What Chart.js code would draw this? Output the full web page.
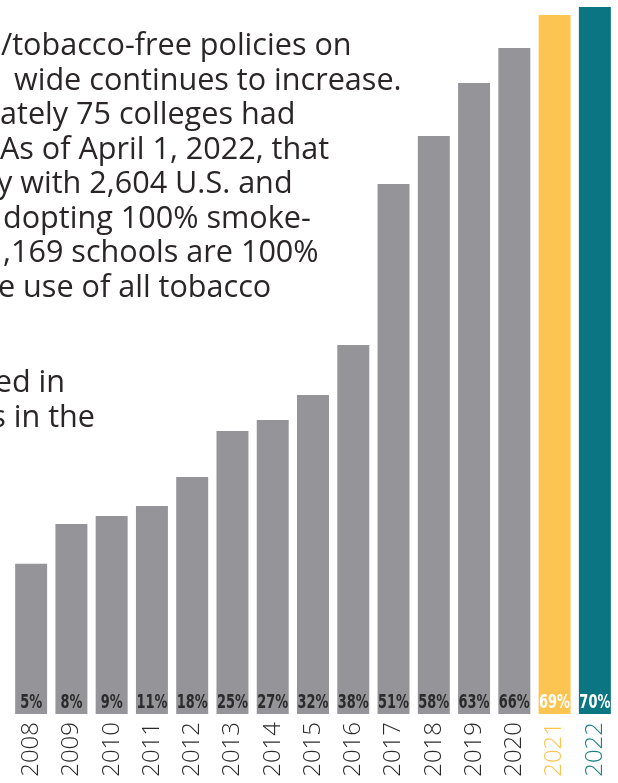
<!DOCTYPE html>
<html>
<head>
<meta charset="utf-8">
<script src="https://cdn.jsdelivr.net/npm/chart.js@4.4.0/dist/chart.umd.min.js"></script>
<style>
  html, body { margin: 0; padding: 0; background: #fff; overflow: hidden; }
  #wrap { position: relative; width: 618px; height: 783px; }
</style>
</head>
<body>
<div id="wrap"><canvas id="campusChart" width="618" height="783"></canvas></div>
<script>
// data (bar heights as campus counts, labels as printed)
const years = ['2008', '2009', '2010', '2011', '2012', '2013', '2014', '2015',
  '2016', '2017', '2018', '2019', '2020', '2021', '2022'];
const campusCounts = [553, 700, 729, 766, 873, 1042, 1083, 1175, 1359, 1952,
  2129, 2324, 2453, 2575, 2604];
const shareLabels = ['5%', '8%', '9%', '11%', '18%', '25%', '27%', '32%', '38%',
  '51%', '58%', '63%', '66%', '69%', '70%'];
const introLines = [
  '/tobacco-free policies on',
  'wide continues to increase.',
  'ately 75 colleges had',
  'As of April 1, 2022, that',
  'y with 2,604 U.S. and',
  'dopting 100% smoke-',
  ',169 schools are 100%',
  'e use of all tobacco',
  'ed in',
  's in the'
];

const GREY = '#959599';
const YELLOW = '#FCC451';
const TEAL = '#0B7682';
const INK = '#231f20';

const barColor = (i) => i === 13 ? YELLOW : (i === 14 ? TEAL : GREY);
const yearColor = (i) => i === 13 ? YELLOW : (i === 14 ? '#1B7D88' : '#2b2b2b');

// paragraph on the left, cut off by the page edge
const introText = {
  id: 'introText',
  beforeDraw(chart) {
    const ctx = chart.ctx;
    // [x, align, baseline] for each line
    const anchors = [
      [1, 'left', 55], [14, 'left', 90], [0, 'left', 124], [0, 'left', 159],
      [-3, 'left', 193], [3, 'left', 228], [3, 'left', 262], [-2, 'left', 297],
      [65, 'right', 392], [95, 'right', 427]
    ];
    ctx.save();
    // size the font so two fully visible lines get their printed widths
    ctx.font = '400 100px "Open Sans"';
    const w = ctx.measureText(introLines[3]).width + ctx.measureText(introLines[5]).width;
    const size = 100 * 637 / w;
    ctx.font = `400 ${size.toFixed(2)}px "Open Sans"`;
    ctx.fillStyle = '#2a2627';
    ctx.textBaseline = 'alphabetic';
    introLines.forEach((line, i) => {
      const [x, align, y] = anchors[i];
      ctx.textAlign = align;
      ctx.fillText(line, x, y);
    });
    ctx.restore();
  }
};

// percentage printed at the foot of each bar
const shareText = {
  id: 'shareText',
  afterDatasetsDraw(chart) {
    const ctx = chart.ctx;
    const bars = chart.getDatasetMeta(0).data;
    ctx.save();
    ctx.font = 'bold 20px "Liberation Sans Narrow", "DejaVu Sans Condensed", sans-serif';
    ctx.textAlign = 'center';
    ctx.textBaseline = 'middle';
    bars.forEach((bar, i) => {
      ctx.save();
      ctx.translate(bar.x, bar.base - 11);
      ctx.scale(0.72, 1);
      ctx.fillStyle = i >= 13 ? '#ffffff' : '#2b2b2b';
      ctx.fillText(shareLabels[i], 0, 0);
      ctx.restore();
    });
    ctx.restore();
  }
};

new Chart(document.getElementById('campusChart'), {
  type: 'bar',
  data: {
    labels: years,
    datasets: [{
      data: campusCounts,
      backgroundColor: years.map((_, i) => barColor(i)),
      borderWidth: 0,
      categoryPercentage: 1,
      barPercentage: 0.794
    }]
  },
  options: {
    responsive: false,
    animation: false,
    layout: { padding: { left: 11, right: 3, top: 0, bottom: 0 } },
    plugins: {
      legend: { display: false },
      tooltip: { enabled: false }
    },
    scales: {
      y: {
        display: false,
        min: 0,
        max: 2630
      },
      x: {
        grid: { display: false, drawTicks: false },
        border: { display: false },
        afterFit: (scale) => {
          scale.height = 69;
          scale.paddingLeft = 0;
          scale.paddingRight = 0;
        },
        ticks: {
          autoSkip: false,
          minRotation: 90,
          maxRotation: 90,
          padding: 8,
          font: { family: '"Open Sans"', size: 24, weight: '300' },
          color: (ctx) => yearColor(ctx.index)
        }
      }
    }
  },
  plugins: [introText, shareText]
});
</script>
</body>
</html>
